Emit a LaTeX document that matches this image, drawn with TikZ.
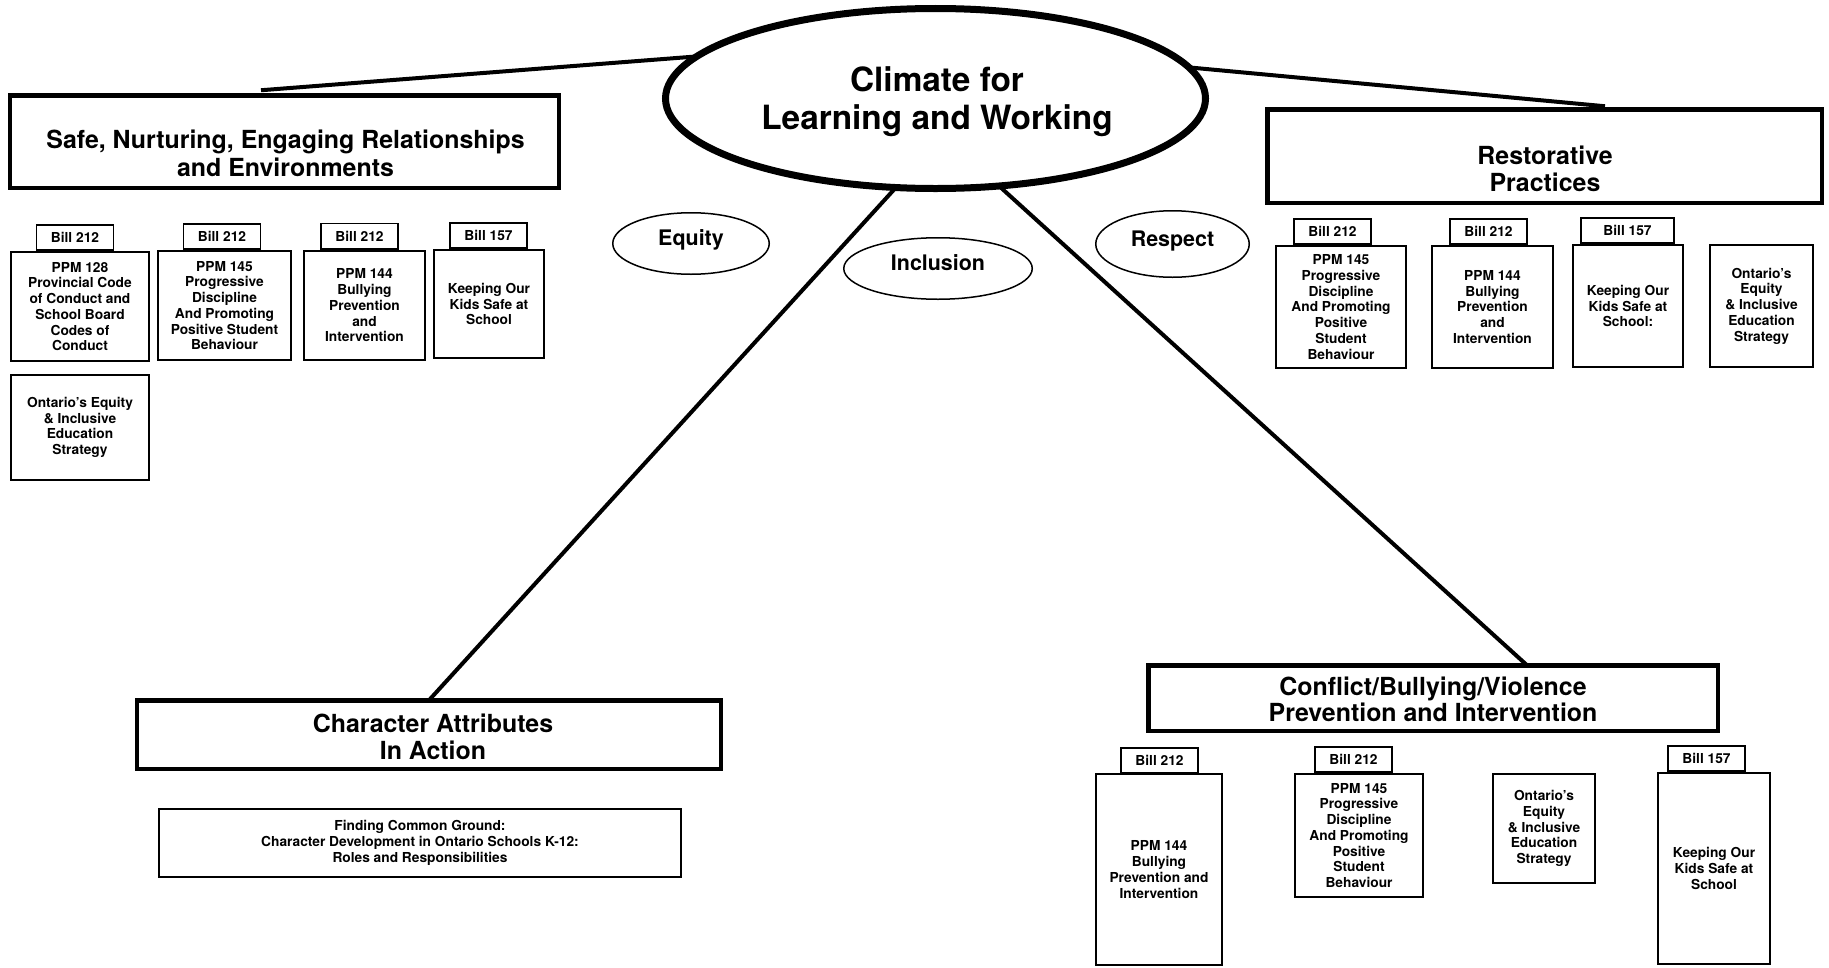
\documentclass[tikz,border=0pt]{standalone}
\usepackage{fontspec}
\setmainfont{TeX Gyre Heros}
\usetikzlibrary{shapes.geometric}

\begin{document}
\begin{tikzpicture}[x=1bp,y=-1bp,
  every node/.style={inner sep=0pt, outer sep=0pt, font=\bfseries},
  hub/.style={ellipse, draw, line width=7bp, minimum width=540bp, minimum height=180bp},
  hubtext/.style={align=center, font=\fontsize{33.5}{38}\selectfont\bfseries},
  value/.style={ellipse, draw, line width=1.5bp, text depth=11bp, font=\fontsize{21.5}{24}\selectfont\bfseries},
  theme/.style={rectangle, draw, line width=4.5bp},
  themetext/.style={align=center, font=\fontsize{25}{27.5}\selectfont\bfseries},
  doc/.style={rectangle, draw, line width=1.6bp, align=center, font=\fontsize{13.8}{15.8}\selectfont\bfseries},
  tab/.style={rectangle, draw, line width=1.6bp, minimum width=77bp, minimum height=25.4bp, font=\fontsize{13.8}{15.8}\selectfont\bfseries},
  link/.style={line width=4bp}
]
\fill[white] (0,0) rectangle (1829,967);
\useasboundingbox (0,0) rectangle (1829,967);

% central theme
\node[hub] (hub) at (935.5,98.5) {};
\node[hubtext] (hubtext) at (937,101.5) {Climate for\\Learning and Working};

% values
\node[value, minimum width=156.5bp, minimum height=61.5bp] (equity) at (691,243.5) {Equity};
\node[value, minimum width=188.5bp, minimum height=61.5bp] (inclusion) at (938,268.5) {Inclusion};
\node[value, minimum width=153.5bp, minimum height=66.5bp] (respect) at (1172.5,244) {Respect};

% four strands
\node[theme, minimum width=548.5bp, minimum height=92.5bp] (safe) at (284.5,141.5) {};
\node[themetext] (safetext) at (285.5,153.5) {Safe, Nurturing, Engaging Relationships\\and Environments};

\node[theme, minimum width=554.5bp, minimum height=93.5bp] (rest) at (1544.5,156) {};
\node[themetext] (resttext) at (1545,169) {Restorative\\Practices};

\node[theme, minimum width=583.5bp, minimum height=68.5bp] (char) at (429,734.5) {};
\node[themetext, font=\fontsize{25}{27}\selectfont\bfseries] (chartext) at (433,736.4) {Character Attributes\\In Action};

\node[theme, minimum width=569.5bp, minimum height=65.5bp] (conf) at (1433,698) {};
\node[themetext, font=\fontsize{25}{27}\selectfont\bfseries] (conftext) at (1433,699.3) {Conflict/Bullying/Violence\\Prevention and Intervention};

% links from the centre
\draw[link] ([xshift=-23.5bp,yshift=5bp]safe.north) -- (hub.170.7);
\draw[link] (hub.7) -- ([xshift=60.5bp,yshift=3bp]rest.north);
\draw[link] (hub.246.35) -- (char.north);
\draw[link] (hub.306.25) -- ([xshift=94bp]conf.north);

% documents: safe, nurturing relationships
\node[tab] (st1) at (75,237.5) {Bill 212};
\node[tab] (st2) at (222,236.5) {Bill 212};
\node[tab] (st3) at (359.5,236) {Bill 212};
\node[tab] (st4) at (488.5,235.5) {Bill 157};
\node[doc, minimum width=138.4bp, minimum height=109.4bp] (s1) at (80,306.5)
  {PPM 128\\Provincial Code\\of Conduct and\\School Board\\Codes of\\Conduct};
\node[doc, minimum width=133.4bp, minimum height=109.4bp] (s2) at (224.5,305.5)
  {PPM 145\\Progressive\\Discipline\\And Promoting\\Positive Student\\Behaviour};
\node[doc, minimum width=121.4bp, minimum height=109.4bp] (s3) at (364.5,305.5)
  {PPM 144\\Bullying\\Prevention\\and\\Intervention};
\node[doc, minimum width=110.4bp, minimum height=108.4bp] (s4) at (489,304)
  {Keeping Our\\Kids Safe at\\School};
\node[doc, minimum width=138.4bp, minimum height=105.4bp] (s5) at (80,427.5)
  {Ontario's Equity\\\& Inclusive\\Education\\Strategy};

% documents: restorative practices
\node[tab] (rt1) at (1332.5,231.5) {Bill 212};
\node[tab] (rt2) at (1488.5,231.5) {Bill 212};
\node[tab, minimum width=93.4bp] (rt3) at (1627.5,230.5) {Bill 157};
\node[doc, minimum width=130.4bp, minimum height=122.4bp] (r1) at (1341,307)
  {PPM 145\\Progressive\\Discipline\\And Promoting\\Positive\\Student\\Behaviour};
\node[doc, minimum width=121.4bp, minimum height=122.4bp] (r2) at (1492.5,307)
  {PPM 144\\Bullying\\Prevention\\and\\Intervention};
\node[doc, minimum width=110.4bp, minimum height=122.4bp] (r3) at (1628,306)
  {Keeping Our\\Kids Safe at\\School:};
\node[doc, minimum width=103.4bp, minimum height=122.4bp] (r4) at (1761.5,306)
  {Ontario's\\Equity\\\& Inclusive\\Education\\Strategy};

% documents: character attributes
\node[doc, minimum width=522.4bp, minimum height=68.4bp] (find) at (420,843)
  {Finding Common Ground:\\Character Development in Ontario Schools K-12:\\Roles and Responsibilities};

% documents: conflict, bullying, violence
\node[tab] (ct1) at (1159.5,760.5) {Bill 212};
\node[tab] (ct2) at (1353.5,759.5) {Bill 212};
\node[tab] (ct4) at (1706.5,758.5) {Bill 157};
\node[doc, minimum width=126.4bp, minimum height=191.4bp] (c1) at (1159,869.5)
  {PPM 144\\Bullying\\Prevention and\\Intervention};
\node[doc, minimum width=128.4bp, minimum height=123.4bp] (c2) at (1359,835.5)
  {PPM 145\\Progressive\\Discipline\\And Promoting\\Positive\\Student\\Behaviour};
\node[doc, minimum width=102.4bp, minimum height=109.4bp] (c3) at (1544,828.5)
  {Ontario's\\Equity\\\& Inclusive\\Education\\Strategy};
\node[doc, minimum width=112.4bp, minimum height=191.4bp] (c4) at (1714,868.5)
  {Keeping Our\\Kids Safe at\\School};
\end{tikzpicture}
\end{document}
